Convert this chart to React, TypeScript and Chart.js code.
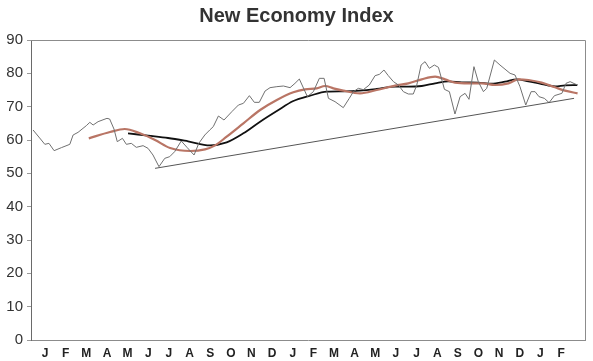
import React, { useEffect, useRef } from "react";
import { Chart, registerables } from "chart.js";

Chart.register(...registerables);

// Month tick labels (two years + two months)
const monthLabels = ["J","F","M","A","M","J","J","A","S","O","N","D","J","F","M","A","M","J","J","A","S","O","N","D","J","F"];

// Weekly index (x in months from first January label, y in index points)
const indexX = [-0.58,-0.18,-0.01,0.19,0.44,0.79,1.2,1.36,1.6,2.0,2.17,2.33,2.57,3.0,3.13,3.34,3.5,3.75,3.94,4.18,4.42,4.75,4.99,5.23,5.52,5.8,6.04,6.28,6.6,6.89,7.22,7.45,7.74,7.98,8.15,8.4,8.67,9.05,9.37,9.61,9.9,10.14,10.38,10.66,10.9,11.23,11.55,11.87,12.11,12.32,12.71,13.0,13.29,13.52,13.73,14.05,14.45,14.74,14.94,15.18,15.42,15.71,15.99,16.2,16.42,16.63,16.88,17.12,17.36,17.6,17.84,18.01,18.22,18.41,18.62,18.86,19.06,19.35,19.59,19.86,20.11,20.35,20.54,20.78,20.99,21.24,21.4,21.77,22.04,22.53,22.77,23.01,23.29,23.55,23.74,23.93,24.19,24.42,24.68,25.04,25.24,25.44,25.68,25.82];
const indexY = [63,60,58.7,59,56.8,57.7,58.7,61.5,62.3,64.3,65.3,64.5,65.5,66.5,66.3,63.3,59.5,60.5,58.7,59,57.8,58.3,57.5,55.5,52,54.5,55,56.5,59.7,57.7,55.5,59,61.5,63,64,67.2,66,68.5,70.5,71,73.3,71.3,71.3,74.7,75.7,76,76.2,75.7,77,78.3,73,74.5,78.5,78.5,72.5,71.5,69.7,72.5,74.5,75.5,75.1,76.5,79.3,79.7,81,79.3,77.5,76.5,74.5,73.8,73.8,76.5,82.5,83.5,81.5,82.5,81.8,75.2,74.5,67.8,73,74,72.2,82,77.5,74.5,75.5,84,82.5,80,79.5,76,70.5,74.5,74.5,73,72.5,71.2,73.3,74,77,77.5,76.8,76.5];

// Short moving average (red)
const shortAvgX = [2.12,3.15,3.86,4.6,5.33,6.06,7.03,7.75,8.24,8.8,9.61,10.42,11.23,12.03,12.6,13.16,13.57,13.97,14.45,15.26,16.07,16.96,17.6,18.25,18.9,19.38,19.86,20.51,21.16,21.8,22.45,22.93,23.42,24.06,24.71,25.19,25.8];
const shortAvgY = [60.5,62.4,63.3,62,60,57.6,56.7,57.2,58.4,61,65,69,72,74.3,75.2,75.5,76.2,75.5,74.8,74,75,76.3,77,78.2,79,78.2,77.2,77,77,76.5,77,78.2,78,77.2,75.8,74.8,74];

// Long moving average (black)
const longAvgX = [4.02,4.99,5.96,6.93,7.99,8.8,9.61,10.42,11.23,12.03,12.84,13.65,14.45,15.26,16.07,16.96,17.6,18.25,18.9,19.54,20.19,20.99,21.64,22.29,22.85,23.42,24.06,24.71,25.19,25.78];
const longAvgY = [62,61.3,60.6,59.6,58.4,59.3,62,65.5,68.7,71.7,73.3,74.5,74.6,74.8,75.3,76,76,76.2,77,77.6,77.3,77.2,76.9,77.5,78.2,77.6,76.8,76.1,76.4,76.5];

// Support trend line
const trendX = [5.33, 25.63];
const trendY = [51.5, 72.5];

const yTicks = { min: 0, max: 90, step: 10 };

const toPoints = (xs: number[], ys: number[]) => xs.map((x, i) => ({ x, y: ys[i] }));

const FONT = "'Liberation Sans', Arial, sans-serif";

const framePlugin = {
  id: "frame",
  afterDraw(chart: any) {
    const { ctx, chartArea } = chart;
    ctx.save();
    ctx.strokeStyle = "#8c8c8c";
    ctx.lineWidth = 1;
    ctx.beginPath();
    ctx.moveTo(chartArea.left, chartArea.top + 0.5);
    ctx.lineTo(chartArea.right + 0.5, chartArea.top + 0.5);
    ctx.lineTo(chartArea.right + 0.5, chartArea.bottom);
    ctx.stroke();
    ctx.restore();
  },
};

export default function App() {
  const ref = useRef<HTMLCanvasElement | null>(null);

  useEffect(() => {
    document.body.style.margin = "0";
    if (!ref.current) return;
    const chart = new Chart(ref.current, {
      type: "line",
      data: {
        datasets: [
          {
            label: "Trend",
            data: toPoints(trendX, trendY),
            borderColor: "#555555",
            borderWidth: 1,
            pointRadius: 0,
            tension: 0,
          },
          {
            label: "Index",
            data: toPoints(indexX, indexY),
            borderColor: "#707070",
            borderWidth: 1,
            pointRadius: 0,
            tension: 0,
          },
          {
            label: "Short average",
            data: toPoints(shortAvgX, shortAvgY),
            borderColor: "#b97565",
            borderWidth: 2.2,
            pointRadius: 0,
            cubicInterpolationMode: "monotone",
          },
          {
            label: "Long average",
            data: toPoints(longAvgX, longAvgY),
            borderColor: "#111111",
            borderWidth: 1.8,
            pointRadius: 0,
            cubicInterpolationMode: "monotone",
          },
        ],
      },
      options: {
        animation: false,
        responsive: false,
        maintainAspectRatio: false,
        layout: { padding: { left: 0, right: 0, top: 0, bottom: 0 } },
        plugins: {
          legend: { display: false },
          tooltip: { enabled: false },
          title: {
            display: true,
            text: "New Economy Index",
            color: "#333333",
            font: { family: FONT, size: 20, weight: "bold" },
            padding: { top: 4, bottom: 12 },
            lineHeight: 1.2,
          },
        },
        scales: {
          x: {
            type: "linear",
            min: -0.68,
            max: 26.16,
            grid: { display: false, drawTicks: false },
            border: { display: true, color: "#8c8c8c", width: 1 },
            afterBuildTicks: (scale: any) => {
              scale.ticks = monthLabels.map((_, i) => ({ value: i }));
            },
            afterFit: (scale: any) => {
              scale.height = 21;
            },
            ticks: {
              autoSkip: false,
              maxRotation: 0,
              padding: 6,
              color: "#222222",
              font: { family: FONT, size: 12, weight: "bold" },
              callback: (_v: any, i: number) => monthLabels[i],
            },
          },
          y: {
            min: yTicks.min,
            max: yTicks.max,
            afterFit: (scale: any) => {
              scale.width = 31;
            },
            grid: {
              display: true,
              drawOnChartArea: false,
              drawTicks: true,
              tickLength: 4,
              color: "#9a9a9a",
            },
            border: { display: true, color: "#6a6a6a", width: 1 },
            ticks: {
              stepSize: yTicks.step,
              padding: 4,
              color: "#333333",
              font: { family: FONT, size: 15 },
            },
          },
          yRightGap: {
            type: "linear",
            position: "right",
            display: true,
            min: yTicks.min,
            max: yTicks.max,
            afterFit: (scale: any) => {
              scale.width = 8;
            },
            grid: { display: false, drawTicks: false },
            border: { display: false },
            ticks: { display: false },
          },
        },
      },
      plugins: [framePlugin],
    } as any);
    return () => chart.destroy();
  }, []);

  return (
    <div style={{ width: 593, height: 361 }}>
      <canvas ref={ref} width={593} height={361} style={{ display: "block", width: 593, height: 361 }} />
    </div>
  );
}
